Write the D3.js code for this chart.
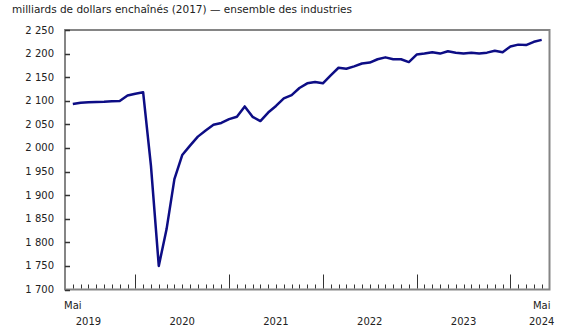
<!DOCTYPE html>
<html>
<head>
<meta charset="utf-8">
<script src="https://cdn.jsdelivr.net/npm/d3@7"></script>
<style>
  html, body { margin: 0; padding: 0; background: #fff; }
  svg { display: block; }
  text { font-family: Verdana, "DejaVu Sans", sans-serif; font-size: 10px; fill: #222; }
</style>
</head>
<body>
<svg id="chart" width="580" height="335"></svg>
<script>
// Monthly values, May 2019 to May 2024
const months = d3.range(61); // index 0 = May 2019
const values = [2093, 2096, 2097, 2097.5, 2098, 2099, 2099.5, 2111, 2115, 2118,
  1962, 1750, 1828, 1934, 1985, 2005, 2024, 2037, 2049, 2053,
  2061, 2066, 2088, 2066, 2057, 2075, 2089, 2105, 2112, 2127,
  2137, 2140, 2137, 2154, 2170, 2168, 2173, 2179, 2181, 2188,
  2192, 2188, 2188, 2182, 2198, 2200, 2203, 2200, 2205, 2202,
  2200, 2202, 2200, 2202, 2206, 2203, 2215, 2219, 2218, 2225, 2229];
const yTicks = [1700, 1750, 1800, 1850, 1900, 1950, 2000, 2050, 2100, 2150, 2200, 2250];
const januaryIdx = [8, 20, 32, 44, 56];
const yearLabels = [
  {label: "2019", pos: 2},
  {label: "2020", pos: 14},
  {label: "2021", pos: 26},
  {label: "2022", pos: 38},
  {label: "2023", pos: 50},
  {label: "2024", pos: 60}
];
const monthLabels = [{label: "Mai", pos: 0}, {label: "Mai", pos: 60}];
const title = "milliards de dollars enchaînés (2017) — ensemble des industries";

const svg = d3.select("#chart");
const L = 65, R = 549.5, T = 30, B = 289.5;
const x = d3.scaleLinear().domain([-1, 61]).range([L, R]);
const y = d3.scaleLinear().domain([1700, 2250]).range([B, T]);
const fmt = v => d3.format(",")(v).replace(/,/g, " ");

svg.append("text").attr("x", 12).attr("y", 13).style("font-size", "10.5px").text(title);

// frame
svg.append("rect").attr("x", L).attr("y", T).attr("width", R - L).attr("height", B - T)
  .attr("fill", "none").attr("stroke", "#858585").attr("stroke-width", 2);

// y ticks and labels
const yg = svg.append("g");
yg.selectAll("line").data(yTicks).join("line")
  .attr("x1", L).attr("x2", L + 5)
  .attr("y1", d => Math.round(y(d)) + 0.5).attr("y2", d => Math.round(y(d)) + 0.5)
  .attr("stroke", "#333").attr("stroke-width", 1.5);
yg.selectAll("text").data(yTicks).join("text")
  .attr("x", 54).attr("y", d => y(d)).attr("dy", "0.35em")
  .attr("text-anchor", "end").text(fmt);

// x ticks
const xg = svg.append("g");
xg.selectAll("line").data(months).join("line")
  .attr("x1", d => Math.round(x(d)) + 0.5).attr("x2", d => Math.round(x(d)) + 0.5)
  .attr("y1", B - 1).attr("y2", d => januaryIdx.includes(d) ? B - 15 : B - 5)
  .attr("stroke", "#333").attr("stroke-width", 1);

svg.append("g").selectAll("text").data(monthLabels).join("text")
  .attr("x", d => x(d.pos)).attr("y", 309).attr("text-anchor", "middle").text(d => d.label);
svg.append("g").selectAll("text").data(yearLabels).join("text")
  .attr("x", d => x(d.pos)).attr("y", 325).attr("text-anchor", "middle").text(d => d.label);

// line
const line = d3.line().x((d, i) => x(months[i])).y(d => y(d));
svg.append("path").datum(values)
  .attr("d", line).attr("fill", "none")
  .attr("stroke", "#0d0d85").attr("stroke-width", 2.5)
  .attr("stroke-linejoin", "round");
</script>
</body>
</html>
